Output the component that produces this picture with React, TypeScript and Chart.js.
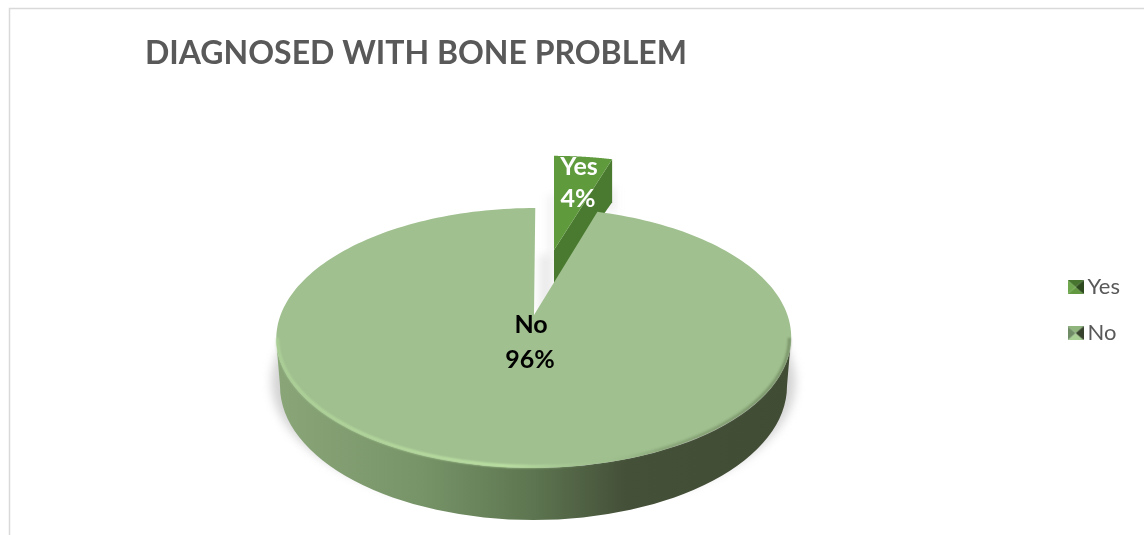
import React, { useEffect, useRef } from "react";
import { Chart, registerables } from "chart.js";

Chart.register(...registerables);

const categories = ["Yes", "No"];
const percentages = [4, 96];
const chartTitle = "DIAGNOSED WITH BONE PROBLEM";

const TOP_COLORS = ["#5f9a3d", "#a0c08f"];
const CUT_COLOR = "#4a7a30";

type Wedge = { ax: number; ay: number; sx: number; sy: number };

// Each slice is pulled out of the pie, so it has its own apex and foreshortening.
const WEDGES: Wedge[] = [
  { ax: 554, ay: 250, sx: 0.935, sy: 0.88 },
  { ax: 534, ay: 315, sx: 1, sy: 1 },
];

const RX = 253.4;
const RY = 125.9;
const TILT = 0.1769;
const TWIST = 0.16;

// Maps an arc angle of the pie element to the tilted disc on screen.
function project(w: Wedge, angle: number) {
  const t = angle + Math.PI / 2;
  const a = t + TWIST * Math.sin(t);
  const u = Math.sin(a);
  const v = Math.cos(a);
  const d = 1 + TILT * v;
  const shear = w.sx === 1 ? 1.5 * v : 0;
  return {
    x: w.ax + (w.sx * RX * u + shear) / d,
    y: w.ay - (w.sy * RY * v) / d,
  };
}

function wedgePath(ctx: CanvasRenderingContext2D, w: Wedge, start: number, end: number) {
  ctx.beginPath();
  ctx.moveTo(w.ax, w.ay);
  const steps = 240;
  for (let i = 0; i <= steps; i++) {
    const p = project(w, start + ((end - start) * i) / steps);
    ctx.lineTo(p.x, p.y);
  }
  ctx.closePath();
}

function marker(top: string, left: string, right: string, bottom: string) {
  const c = document.createElement("canvas");
  c.width = 16;
  c.height = 14;
  const g = c.getContext("2d")!;
  const tri = (col: string, pts: number[]) => {
    g.fillStyle = col;
    g.beginPath();
    g.moveTo(pts[0], pts[1]);
    g.lineTo(pts[2], pts[3]);
    g.lineTo(8, 7);
    g.closePath();
    g.fill();
  };
  tri(top, [0, 0, 16, 0]);
  tri(right, [16, 0, 16, 14]);
  tri(bottom, [16, 14, 0, 14]);
  tri(left, [0, 14, 0, 0]);
  return c;
}

const pie3d = {
  id: "pie3d",
  beforeDraw(chart: any) {
    const { ctx, width, height } = chart;
    ctx.save();
    ctx.fillStyle = "#ffffff";
    ctx.fillRect(0, 0, width, height);
    ctx.strokeStyle = "#d9d9d9";
    ctx.lineWidth = 1.5;
    ctx.beginPath();
    ctx.moveTo(9.5, height);
    ctx.lineTo(9.5, 8.5);
    ctx.lineTo(width, 8.5);
    ctx.stroke();
    ctx.restore();
  },
  beforeDatasetsDraw(chart: any) {
    const { ctx } = chart;
    const arcs = chart.getDatasetMeta(0).data;
    const cx = 533.5;
    const cy = 338;
    const a = 257.5;
    const b = 130;
    const baseCy = 386;
    const baseA = 253.5;
    const baseB = 134;

    // Soft ground shadow, cut off flat below the disc
    ctx.save();
    ctx.beginPath();
    ctx.rect(0, 340, chart.width, 160);
    ctx.clip();
    ctx.filter = "blur(5px)";
    ctx.fillStyle = "rgba(170,170,170,0.5)";
    ctx.beginPath();
    ctx.ellipse(cx, 382, 262, 130, 0, 0, Math.PI * 2);
    ctx.fill();
    ctx.restore();

    // Shade in the gap left by the pulled-out slice
    ctx.save();
    ctx.filter = "blur(4px)";
    ctx.fillStyle = "rgba(190,190,190,0.3)";
    ctx.fillRect(539, 255, 14, 60);
    ctx.fillRect(549, 195, 5, 60);
    ctx.fillRect(607, 188, 8, 24);
    ctx.restore();

    // Pulled-out slice: cut face first, then its top
    const yes = arcs[0];
    const wy = WEDGES[0];
    const yesEnd = project(wy, yes.endAngle);
    ctx.fillStyle = CUT_COLOR;
    ctx.beginPath();
    ctx.moveTo(wy.ax, wy.ay);
    ctx.lineTo(yesEnd.x, yesEnd.y);
    ctx.lineTo(yesEnd.x, yesEnd.y + 43);
    ctx.lineTo(wy.ax, wy.ay + 35);
    ctx.closePath();
    ctx.fill();
    wedgePath(ctx, wy, yes.startAngle, yes.endAngle);
    ctx.fillStyle = TOP_COLORS[0];
    ctx.fill();

    // Rim of the large slice
    const rim = ctx.createLinearGradient(cx - a, 0, cx + a, 0);
    rim.addColorStop(0, "#8aa679");
    rim.addColorStop(0.28, "#779468");
    rim.addColorStop(0.5, "#5d7550");
    rim.addColorStop(0.68, "#445038");
    rim.addColorStop(1, "#414c35");
    ctx.fillStyle = rim;
    ctx.beginPath();
    ctx.ellipse(cx, cy, a, b, 0, Math.PI, 0, true);
    ctx.lineTo(cx + baseA, baseCy);
    ctx.ellipse(cx, baseCy, baseA, baseB, 0, 0, Math.PI, false);
    ctx.closePath();
    ctx.fill();

    const no = arcs[1];
    wedgePath(ctx, WEDGES[1], no.startAngle, no.endAngle);
    ctx.fillStyle = TOP_COLORS[1];
    ctx.fill();

    // Bevel along the front of the disc: bright on the lit side, dark on the far side
    const bevel = ctx.createLinearGradient(cx - a, 0, cx + a, 0);
    bevel.addColorStop(0, "rgba(178,215,155,0.7)");
    bevel.addColorStop(0.45, "rgba(190,228,165,1)");
    bevel.addColorStop(0.62, "rgba(170,205,150,0.1)");
    bevel.addColorStop(0.75, "rgba(90,110,75,0.35)");
    bevel.addColorStop(1, "rgba(80,100,65,0.5)");
    ctx.save();
    ctx.filter = "blur(1px)";
    ctx.strokeStyle = bevel;
    ctx.lineWidth = 3;
    ctx.beginPath();
    ctx.ellipse(cx, cy, a - 1.5, b - 1.5, 0, Math.PI, 0, true);
    ctx.stroke();
    ctx.restore();

    return false;
  },
  afterDraw(chart: any) {
    const { ctx } = chart;
    ctx.save();
    ctx.textAlign = "center";
    ctx.textBaseline = "middle";
    ctx.font = "700 25px Lato";
    ctx.fillStyle = "#ffffff";
    ctx.fillText(categories[0], 579, 167);
    ctx.fillText(`${percentages[0]}%`, 578, 199);
    ctx.fillStyle = "#000000";
    ctx.fillText(categories[1], 531, 325);
    ctx.fillText(`${percentages[1]}%`, 530, 360);
    ctx.restore();
  },
};

export default function App() {
  const ref = useRef<HTMLCanvasElement>(null);
  useEffect(() => {
    const markers = [
      marker("#47752f", "#6fa74e", "#2d4a1e", "#62983f"),
      marker("#8fb57d", "#6f8c66", "#36422c", "#a8d094"),
    ];
    const chart = new Chart(ref.current!, {
      type: "pie",
      data: {
        labels: categories,
        datasets: [{ data: percentages, backgroundColor: TOP_COLORS, borderWidth: 0 }],
      },
      options: {
        animation: false,
        responsive: false,
        layout: { padding: { left: 145, right: 14, top: 0, bottom: 0 } },
        plugins: {
          tooltip: { enabled: false },
          title: {
            display: true,
            text: chartTitle,
            align: "start",
            color: "#595959",
            font: { family: "Lato", size: 32, weight: "bold" },
            padding: { top: 34, bottom: 13 },
          },
          legend: {
            position: "right",
            fullSize: false,
            labels: {
              usePointStyle: true,
              pointStyleWidth: 2,
              color: "#595959",
              font: { family: "Lato", size: 22 },
              padding: 24,
              generateLabels: () =>
                categories.map((text, i) => ({
                  text,
                  pointStyle: markers[i],
                  fontColor: "#595959",
                  datasetIndex: 0,
                  index: i,
                  lineWidth: 0,
                })),
            },
          },
        },
      },
      plugins: [pie3d],
    } as any);
    return () => chart.destroy();
  }, []);
  return (
    <div style={{ position: "absolute", left: 0, top: 0, width: 1144, height: 535 }}>
      <canvas ref={ref} width={1144} height={535} style={{ display: "block" }} />
    </div>
  );
}
